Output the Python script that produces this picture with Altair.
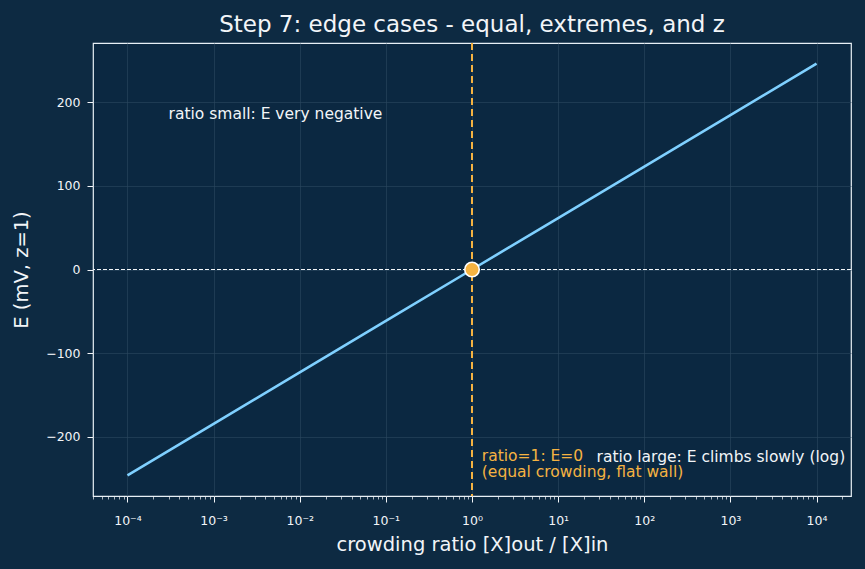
import altair as alt
import pandas as pd

# Nernst potential (z=1) at each decade of the concentration ratio
ratio = [1e-4, 1e-3, 1e-2, 1e-1, 1e0, 1e1, 1e2, 1e3, 1e4]
e_mv = [-246.2, -184.6, -123.1, -61.5, 0.0, 61.5, 123.1, 184.6, 246.2]

# equal-crowding marker
eq_ratio = [1.0]
eq_e = [0.0]

# annotations
note_text = ["ratio small: E very negative", "ratio large: E climbs slowly (log)",
             "ratio=1: E=0", "(equal crowding, flat wall)"]
note_x = [3e-4, 2.15e4, 1.3, 1.3]
note_y = [180, -230, -229, -248]
note_color = ["#f2f5f8", "#f2f5f8", "#f5b342", "#f5b342"]
note_align = ["left", "right", "left", "left"]

major_ticks = [1e-4, 1e-3, 1e-2, 1e-1, 1e0, 1e1, 1e2, 1e3, 1e4]
minor_ticks = [m * 10.0 ** k for k in range(-5, 5) for m in range(2, 10)]
y_ticks = [-200, -100, 0, 100, 200]

BG = "#0d2a42"
PLOT_BG = "#0b2841"
FG = "#f2f5f8"
GRID = "#2c4860"
LINE = "#7fd0ff"
ORANGE = "#f5b342"
FONT = "DejaVu Sans"

df_line = pd.DataFrame({"ratio": ratio, "E": e_mv})
df_eq = pd.DataFrame({"ratio": eq_ratio, "E": eq_e})
df_notes = pd.DataFrame({"ratio": note_x, "E": note_y, "text": note_text,
                         "color": note_color, "align": note_align})

x_scale = alt.Scale(type="log", domain=[10 ** -4.4, 10 ** 4.4], nice=False)
y_scale = alt.Scale(domain=[-270.8, 270.8], nice=False, zero=False)

sup_labels = "['10⁻⁴','10⁻³','10⁻²','10⁻¹','10⁰','10¹','10²','10³','10⁴']"

x_major = alt.X(
    "ratio:Q", scale=x_scale, title="crowding ratio [X]out / [X]in",
    axis=alt.Axis(values=major_ticks, orient="bottom",
                  labelExpr=f"{sup_labels}[round(log(datum.value)/LN10)+4]",
                  grid=True, gridColor=GRID, gridWidth=0.6,
                  tickColor=FG, tickSize=6, tickWidth=1,
                  labelColor=FG, labelFontSize=12.5, labelFont=FONT, labelPadding=12,
                  titleColor=FG, titleFontSize=19.5, titleFont=FONT, titleFontWeight="normal",
                  titlePadding=9, domain=False),
)
y_major = alt.Y(
    "E:Q", scale=y_scale, title="E (mV, z=1)",
    axis=alt.Axis(values=y_ticks, orient="left", grid=True, gridColor=GRID, gridWidth=0.6,
                  tickColor=FG, tickSize=6, tickWidth=1,
                  labelColor=FG, labelFontSize=12.5, labelFont=FONT, labelPadding=7,
                  titleColor=FG, titleFontSize=19.5, titleFont=FONT, titleFontWeight="normal",
                  titlePadding=14, domain=False),
)
x_plain = alt.X("ratio:Q", scale=x_scale, axis=None)
y_plain = alt.Y("E:Q", scale=y_scale, axis=None)

line = alt.Chart(df_line).mark_line(color=LINE, strokeWidth=2.6).encode(x=x_major, y=y_major)

# minor ticks on the log axis, no labels
minor_axis = alt.Chart(df_line).mark_point(opacity=0).encode(
    x=alt.X("ratio:Q", scale=x_scale, title=None,
            axis=alt.Axis(values=minor_ticks, orient="bottom", labels=False,
                          grid=False, tickColor=FG, tickSize=3, tickWidth=0.7,
                          domain=False)),
    y=y_plain,
)

zero_line = alt.Chart(df_eq).mark_rule(color=FG, strokeWidth=1, strokeDash=[4, 2]).encode(y=y_plain)
eq_line = alt.Chart(df_eq).mark_rule(color=ORANGE, strokeWidth=2, strokeDash=[7, 4]).encode(x=x_plain)
eq_point = alt.Chart(df_eq).mark_point(
    filled=True, color=ORANGE, size=210, stroke="white", strokeWidth=1.6, opacity=1
).encode(x=x_plain, y=y_plain)

notes = []
for al in ["left", "right"]:
    notes.append(
        alt.Chart(df_notes[df_notes["align"] == al]).mark_text(
            align=al, baseline="alphabetic", fontSize=15.5, font=FONT
        ).encode(
            x=x_plain,
            y=y_plain,
            text="text:N",
            color=alt.Color("color:N", scale=None),
        )
    )

chart = (
    alt.layer(line, minor_axis, zero_line, eq_line, eq_point, *notes)
    .resolve_axis(x="independent", y="independent")
    .properties(
        width=758, height=453,
        background=BG,
        padding={"left": 93, "top": 43, "right": 14, "bottom": 73},
        autosize=alt.AutoSizeParams(type="none"),
        title=alt.TitleParams("Step 7: edge cases - equal, extremes, and z",
                              color=FG, fontSize=23, font=FONT, fontWeight="normal",
                              anchor="middle", offset=5),
    )
    .configure_view(fill=PLOT_BG, stroke="#e8f0f6", strokeWidth=1.2)
)

chart.save("out.html", embed_options={"renderer": "svg", "actions": False})
